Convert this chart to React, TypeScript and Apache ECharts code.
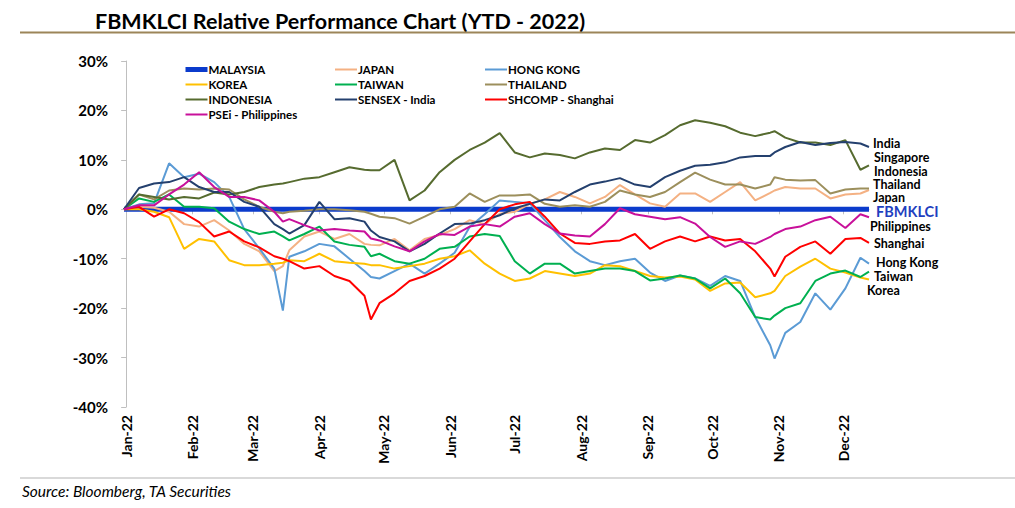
import { useEffect, useRef } from 'react';
import * as echarts from 'echarts';

// x positions: day of year (0 = 1 Jan 2022)
const DAYS = [-1, 6, 13, 20, 27, 34, 41, 48, 55, 62, 69, 73, 76, 83, 90, 97, 104, 111, 114, 118, 125, 132, 139, 146, 153, 160, 167, 174, 181, 188, 195, 202, 209, 216, 223, 230, 237, 244, 251, 258, 265, 272, 279, 286, 293, 300, 302, 307, 314, 321, 328, 335, 342, 346];

const MALAYSIA = [0, 0, 0, 0, 0, 0, 0, 0, 0, 0, 0, 0, 0, 0, 0, 0, 0, 0, 0, 0, 0, 0, 0, 0, 0, 0, 0, 0, 0, 0, 0, 0, 0, 0, 0, 0, 0, 0, 0, 0, 0, 0, 0, 0, 0, 0, 0, 0, 0, 0, 0, 0, 0, 0];
const JAPAN = [0, 0.5, 0.3, -0.5, -3.0, -3.5, -2.2, -4.3, -7.0, -8.5, -12.5, -11.5, -8.3, -5.5, -4.5, -6.0, -5.0, -7.0, -7.2, -7.3, -6.0, -8.3, -6.0, -5.2, -4.0, -2.2, -3.0, -0.9, -0.5, 1.1, 2.0, 3.5, 2.5, 1.2, 2.5, 4.9, 3.0, 1.2, 0.5, 3.2, 3.2, 1.5, 3.5, 5.5, 1.8, 3.3, 3.8, 4.5, 4.2, 4.2, 2.2, 3.0, 3.2, 3.9];
const HONG_KONG = [0, 1.0, 1.2, 9.3, 6.5, 7.2, 5.5, 2.5, -4.0, -7.9, -12.0, -20.5, -9.6, -8.5, -7.0, -7.5, -10.0, -12.5, -13.7, -14.0, -12.5, -11.0, -13.0, -11.0, -8.8, -3.6, -1.0, 1.8, 1.5, 1.2, -2.2, -5.6, -8.5, -10.5, -11.3, -10.5, -10.0, -12.8, -14.5, -13.4, -14.0, -15.5, -13.5, -14.5, -21.8, -27.5, -30.2, -25.0, -22.8, -17.0, -20.3, -16.0, -9.8, -11.0];
const KOREA = [0, 0, -0.5, -1.6, -8.0, -6.0, -6.5, -10.3, -11.3, -11.3, -11.0, -10.8, -10.3, -10.5, -9.0, -10.5, -10.8, -11.0, -11.3, -11.3, -12.0, -11.5, -11.0, -10.0, -9.5, -8.3, -11.0, -13.0, -14.5, -14.0, -12.5, -13.0, -13.5, -13.0, -11.3, -11.5, -12.5, -13.5, -13.8, -13.6, -14.2, -16.5, -15.0, -14.8, -17.8, -17.0, -16.5, -13.5, -11.6, -10.0, -12.0, -12.8, -13.8, -14.2];
const TAIWAN = [0, 2.2, 1.5, 3.0, 0.5, 0.5, 0.2, -2.5, -4.0, -5.0, -4.5, -5.5, -6.3, -5.0, -3.5, -6.5, -7.2, -7.6, -9.5, -9.0, -10.5, -11.0, -10.0, -8.0, -7.6, -5.5, -5.0, -5.4, -10.5, -13.0, -11.0, -11.0, -13.0, -12.5, -12.0, -12.0, -12.5, -14.4, -14.0, -13.4, -14.0, -16.0, -14.0, -17.0, -21.8, -22.3, -21.5, -20.0, -19.0, -14.5, -13.0, -12.4, -13.7, -12.6];
const THAILAND = [0, 3.0, 2.0, 3.8, 4.2, 4.0, 4.2, 4.0, 2.0, 0.5, -0.5, -0.8, -0.5, -0.3, 0, 0, -0.2, -0.5, -0.9, -1.5, -1.8, -2.9, -1.5, 0, 0.5, 3.2, 1.5, 2.8, 2.8, 3.0, 1.1, 0.5, 0.8, 0.5, 1.5, 3.8, 3.0, 2.5, 3.5, 5.5, 7.4, 6.0, 5.0, 5.0, 4.2, 5.0, 6.5, 6.0, 5.8, 5.9, 3.2, 4.0, 4.2, 4.2];
const INDONESIA = [0, 3.0, 2.5, 2.0, 2.5, 2.2, 3.4, 3.0, 3.5, 4.5, 5.0, 5.2, 5.5, 6.2, 6.5, 7.5, 8.5, 8.0, 7.9, 7.9, 10.0, 1.8, 3.8, 7.5, 10.0, 12.0, 13.5, 15.4, 11.5, 10.5, 11.3, 11.0, 10.3, 11.5, 12.3, 12.0, 14.0, 13.5, 15.0, 17.0, 18.0, 17.5, 16.8, 15.5, 14.8, 15.5, 15.8, 14.5, 13.5, 13.5, 13.0, 14.0, 8.0, 8.9];
const INDIA = [0, 4.3, 5.2, 5.5, 6.5, 4.5, 3.5, 3.5, 1.5, 0.5, -3.0, -4.0, -4.9, -3.2, 1.5, -2.0, -1.8, -2.5, -4.3, -5.6, -6.5, -8.5, -7.0, -4.9, -3.0, -2.9, -2.2, -1.2, 0.2, 1.1, 2.0, 1.8, 3.5, 5.0, 5.6, 6.3, 5.0, 4.5, 6.5, 7.8, 8.8, 9.0, 9.5, 10.5, 10.8, 10.8, 11.5, 12.6, 13.6, 13.0, 13.4, 13.6, 13.3, 12.6];
const SHANGHAI = [0, 0.5, -1.5, 0, -0.8, -2.6, -5.5, -4.5, -6.5, -7.7, -9.5, -10.0, -10.5, -12.0, -11.5, -13.5, -14.5, -17.5, -22.3, -19.0, -17.0, -14.5, -13.5, -12.0, -10.0, -6.5, -3.0, 0, 1.0, 1.5, -1.5, -4.9, -6.8, -7.0, -6.5, -6.3, -5.0, -8.0, -6.5, -5.5, -6.5, -5.5, -6.3, -6.0, -8.5, -12.0, -13.6, -9.6, -7.6, -6.5, -9.0, -6.0, -5.8, -6.8];
const PHILIPPINES = [0, 0.8, 0.8, 3.0, 5.0, 7.5, 4.5, 2.5, 2.5, 1.8, -0.5, -2.5, -2.0, -3.2, -4.3, -4.0, -4.3, -4.5, -5.9, -6.3, -7.5, -8.5, -6.5, -5.0, -5.2, -3.5, -3.0, -3.5, -1.5, -0.8, -3.0, -4.9, -5.3, -5.5, -3.0, 0.2, -1.0, -1.5, -2.0, -1.6, -2.9, -5.6, -7.6, -6.5, -7.0, -5.6, -5.0, -4.0, -3.5, -2.2, -1.5, -3.8, -1.0, -1.6];

// month ticks (day of year of the 1st of each month) and their labels
const MONTH_TICKS = [0, 31, 59, 90, 120, 151, 181, 212, 243, 273, 304, 334];
const MONTH_LABELS = ['Jan-22', 'Feb-22', 'Mar-22', 'Apr-22', 'May-22', 'Jun-22', 'Jul-22', 'Aug-22', 'Sep-22', 'Oct-22', 'Nov-22', 'Dec-22'];
const Y_TICKS = [-40, -30, -20, -10, 0, 10, 20, 30];

const SERIES = [
  { name: 'MALAYSIA', data: MALAYSIA, color: '#0b3bcc', width: 5 },
  { name: 'JAPAN', data: JAPAN, color: '#f4b183', width: 2 },
  { name: 'HONG KONG', data: HONG_KONG, color: '#5b9bd5', width: 2 },
  { name: 'KOREA', data: KOREA, color: '#ffc000', width: 2 },
  { name: 'TAIWAN', data: TAIWAN, color: '#00b050', width: 2 },
  { name: 'THAILAND', data: THAILAND, color: '#9c8f5c', width: 2 },
  { name: 'INDONESIA', data: INDONESIA, color: '#566b2f', width: 2 },
  { name: 'SENSEX - India', data: INDIA, color: '#24406e', width: 2 },
  { name: 'SHCOMP - Shanghai', data: SHANGHAI, color: '#ff0000', width: 2 },
  { name: 'PSEi - Philippines', data: PHILIPPINES, color: '#c8109a', width: 2 },
];

const END_LABELS = [
  { text: 'India', x: 873, y: 143 },
  { text: 'Singapore', x: 874, y: 157 },
  { text: 'Indonesia', x: 874, y: 171 },
  { text: 'Thailand', x: 873, y: 184 },
  { text: 'Japan', x: 873, y: 197 },
  { text: 'Philippines', x: 870, y: 226 },
  { text: 'Shanghai', x: 874, y: 243 },
  { text: 'Hong Kong', x: 876, y: 262 },
  { text: 'Taiwan', x: 874, y: 276 },
  { text: 'Korea', x: 867, y: 290 },
];

const FONT = 'Lato, "Open Sans", sans-serif';

export default function App() {
  const ref = useRef<HTMLDivElement>(null);
  useEffect(() => {
    if (!ref.current) return;
    const chart = echarts.init(ref.current, undefined, { renderer: 'svg' });
    const widthOf = (name: string) => SERIES.find((s) => s.name === name)?.width ?? 2;
    const legendCols = [
      { left: 183, data: ['MALAYSIA', 'KOREA', 'INDONESIA', 'PSEi - Philippines'] },
      { left: 334, data: ['JAPAN', 'TAIWAN', 'SENSEX - India'] },
      { left: 484, data: ['HONG KONG', 'THAILAND', 'SHCOMP - Shanghai'] },
    ];
    chart.setOption({
      animation: false,
      backgroundColor: '#ffffff',
      grid: { left: 124, right: 146, top: 61, bottom: 101, containLabel: false },
      legend: legendCols.map((c) => ({
        left: c.left,
        top: 63,
        orient: 'vertical',
        padding: 0,
        itemGap: 2,
        itemWidth: 22,
        itemHeight: 8,
        data: c.data.map((n) => ({ name: n, lineStyle: { width: widthOf(n) } })),
        selectedMode: false,
        itemStyle: { opacity: 0, borderWidth: 0 },
        textStyle: { fontFamily: FONT, fontWeight: 'bold', fontSize: 11.5, color: '#000', lineHeight: 13, padding: [0, 0, 0, -4] },
      })),
      xAxis: [
        {
          type: 'value',
          min: -1,
          max: 346,
          position: 'bottom',
          axisLine: { show: false, onZero: false },
          axisTick: { show: false },
          splitLine: { show: false },
          axisLabel: {
            customValues: MONTH_TICKS,
            rotate: 90,
            margin: 8,
            fontFamily: FONT,
            fontWeight: 'bold',
            fontSize: 14,
            color: '#000',
            formatter: (v: number) => MONTH_LABELS[MONTH_TICKS.indexOf(v)] ?? '',
          },
        },
        {
          type: 'value',
          min: -1,
          max: 346,
          position: 'bottom',
          axisLine: { show: true, onZero: true, lineStyle: { color: '#bfbfbf' } },
          axisTick: { show: true, customValues: MONTH_TICKS, length: 5, lineStyle: { color: '#bfbfbf' } },
          axisLabel: { show: false },
          splitLine: { show: false },
        },
      ],
      yAxis: {
        type: 'value',
        min: -40,
        max: 30,
        interval: 10,
        axisLine: { show: true, lineStyle: { color: '#bfbfbf', width: 1 } },
        axisTick: { show: true, length: 5, lineStyle: { color: '#bfbfbf' } },
        splitLine: { show: false },
        axisLabel: {
          margin: 16,
          fontFamily: FONT,
          fontWeight: 'bold',
          fontSize: 15,
          color: '#000',
          customValues: Y_TICKS,
          formatter: (v: number) => `${v}%`,
        },
      },
      series: SERIES.map((s) => ({
        name: s.name,
        type: 'line',
        xAxisIndex: 0,
        showSymbol: false,
        symbol: 'none',
        smooth: false,
        color: s.color,
        lineStyle: { color: s.color, width: s.width },
        data: DAYS.map((d, i) => [d, s.data[i]]),
      })),
      graphic: [
        {
          type: 'text',
          x: 95,
          y: 21,
          style: { text: 'FBMKLCI Relative Performance Chart (YTD - 2022)', fontFamily: FONT, fontWeight: 'bold', fontSize: 21.5, fill: '#000', verticalAlign: 'middle' },
        },
        { type: 'line', shape: { x1: 20, y1: 32.5, x2: 1015, y2: 32.5 }, style: { stroke: '#9c8559', lineWidth: 2 } },
        { type: 'line', shape: { x1: 20, y1: 478, x2: 1015, y2: 478 }, style: { stroke: '#d9d9d9', lineWidth: 2 } },
        {
          type: 'text',
          x: 22,
          y: 491,
          style: { text: 'Source: Bloomberg, TA Securities', fontFamily: FONT, fontStyle: 'italic', fontSize: 15.5, fill: '#000', verticalAlign: 'middle' },
        },
        {
          type: 'text',
          x: 876,
          y: 211,
          style: { text: 'FBMKLCI', fontFamily: FONT, fontWeight: 'bold', fontSize: 14.5, lineHeight: 12, fill: '#1f3fbf', verticalAlign: 'middle' },
        },
        ...END_LABELS.map((l) => ({
          type: 'text',
          x: l.x,
          y: l.y,
          style: { text: l.text, fontFamily: FONT, fontWeight: 'bold', fontSize: 12.5, lineHeight: 10, fill: '#000', verticalAlign: 'middle' },
        })),
      ],
    });
    return () => chart.dispose();
  }, []);
  return <div ref={ref} style={{ position: 'fixed', left: 0, top: 0, width: 1015, height: 508 }} />;
}
